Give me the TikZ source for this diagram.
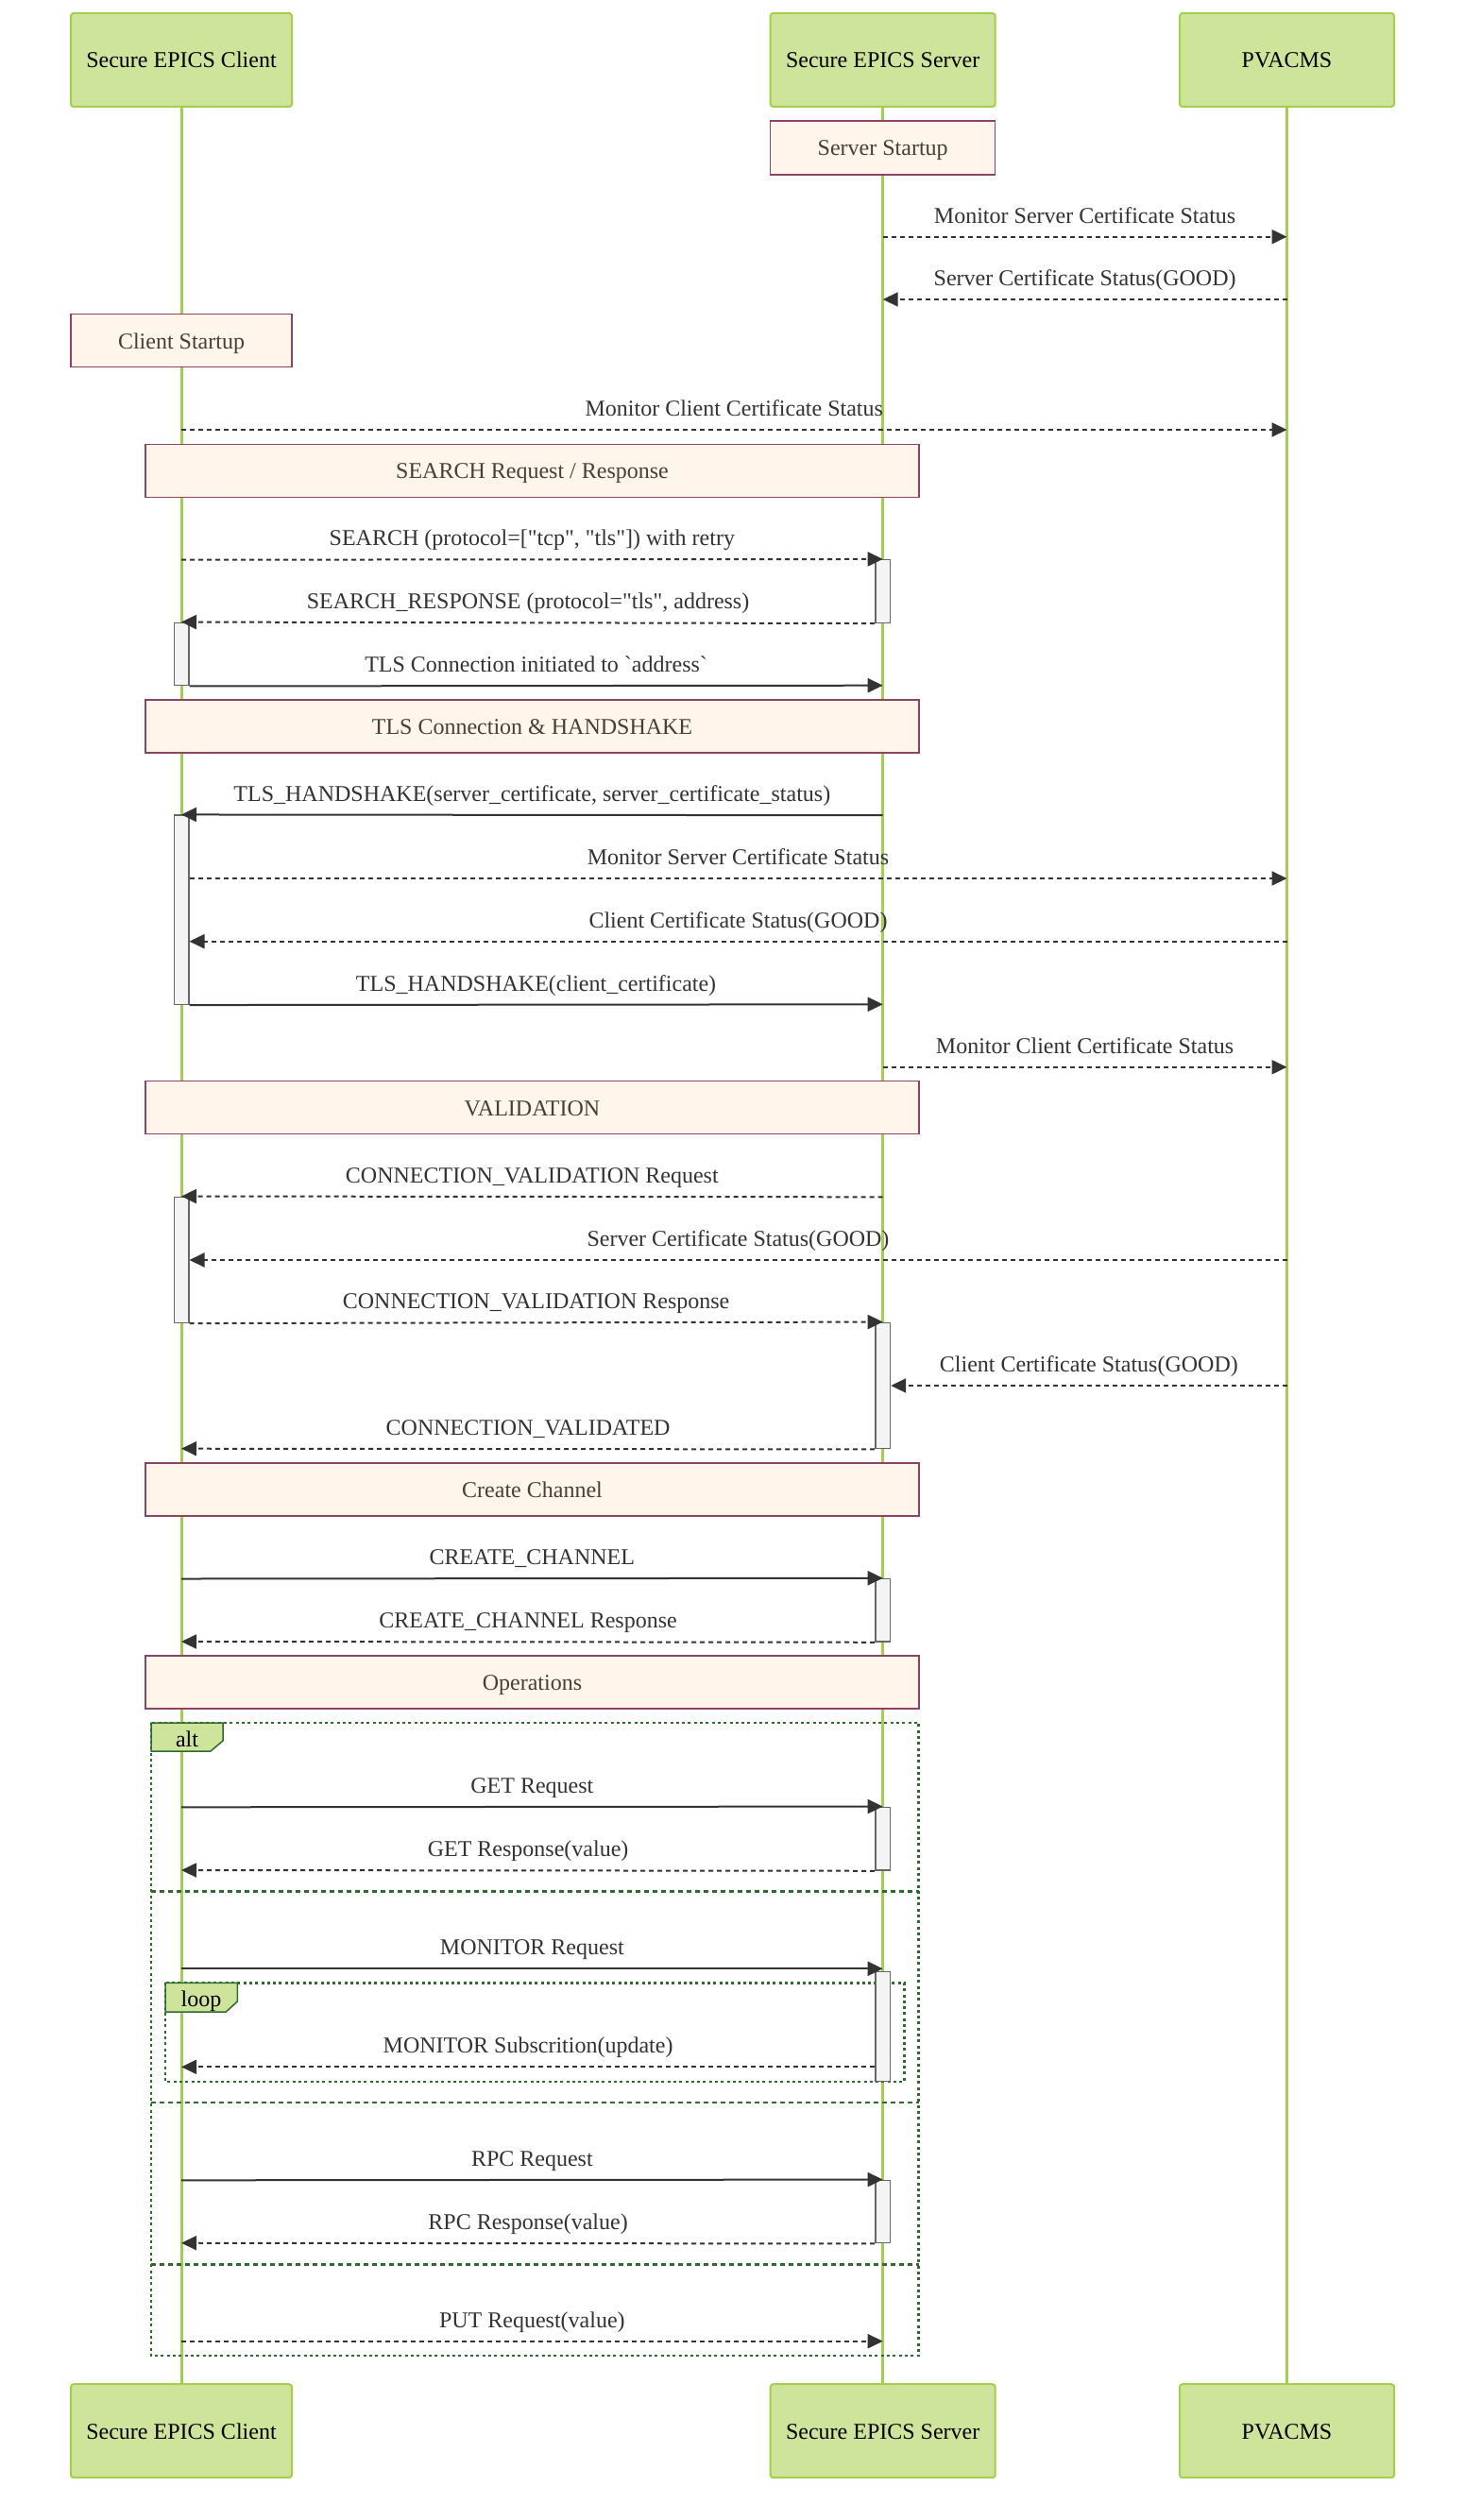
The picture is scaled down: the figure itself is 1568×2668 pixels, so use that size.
\documentclass[tikz,border=0pt]{standalone}
\usepackage{fontspec}
\setmainfont{Liberation Serif}
\usepackage{xcolor}
\usetikzlibrary{arrows.meta}

\definecolor{actfill}{HTML}{CFE49B}
\definecolor{actline}{HTML}{A2D04A}
\definecolor{notefill}{HTML}{FFF5EA}
\definecolor{noteline}{HTML}{8B4463}
\definecolor{notetext}{HTML}{4A3E38}
\definecolor{msgline}{HTML}{333333}
\definecolor{frameline}{HTML}{2F6B2F}
\definecolor{barfill}{HTML}{F4F4F4}
\definecolor{barline}{HTML}{666666}
\newcommand{\diagfont}{\fontsize{24}{28}\selectfont}
\newcommand{\dq}{\textquotedbl}

\tikzset{
	actorbox/.style={draw=actline, fill=actfill, line width=2pt, rounded corners=3pt,
		minimum height=99pt, inner sep=0pt, font=\diagfont, text height=22pt, text depth=5pt},
	notebox/.style={draw=noteline, fill=notefill, line width=1.5pt, minimum height=56pt,
		inner sep=0pt, font=\diagfont, text=notetext, text height=22pt, text depth=5pt},
	actbar/.style={draw=barline, fill=barfill, line width=1.5pt, minimum width=15.5pt, inner sep=0pt},
	lifeline/.style={draw=actline, line width=3pt},
	msgsolid/.style={draw=msgline, line width=2pt, -{Triangle[length=16pt,width=15pt]}},
	msgdash/.style={msgsolid, dash pattern=on 5pt off 4pt},
	msglabel/.style={midway, anchor=base, yshift=14.5pt, inner sep=0pt, font=\diagfont, text=msgline},
	groupframe/.style={draw=frameline, line width=2.5pt, dash pattern=on 3pt off 3.3pt},
	groupsep/.style={draw=frameline, line width=2.5pt, dash pattern=on 5pt off 4pt},
	grouptag/.style={draw=frameline, fill=actfill, line width=1.5pt},
}

\begin{document}
\begin{tikzpicture}[x=1pt, y=-1pt]
	\path[use as bounding box, fill=white] (0,0) rectangle (1568,2668);
	% participants
	\node[actorbox, minimum width=234pt] (cTop) at (192,63.5) {Secure EPICS Client};
	\node[actorbox, minimum width=238pt] (sTop) at (934.7,63.5) {Secure EPICS Server};
	\node[actorbox, minimum width=227pt] (pTop) at (1362.5,63.5) {PVACMS};
	\node[actorbox, minimum width=234pt] (cBot) at (192,2573.7) {Secure EPICS Client};
	\node[actorbox, minimum width=238pt] (sBot) at (934.7,2573.7) {Secure EPICS Server};
	\node[actorbox, minimum width=227pt] (pBot) at (1362.5,2573.7) {PVACMS};
	\draw[lifeline] (cTop.south) -- (cBot.north);
	\draw[lifeline] (sTop.south) -- (sBot.north);
	\draw[lifeline] (pTop.south) -- (pBot.north);

	% notes
	\node[notebox, minimum width=238pt, minimum height=56.7pt] (nSrvStart) at (934.7,156.4) {Server Startup};
	\node[notebox, minimum width=234pt] (nCliStart) at (192,360.7) {Client Startup};
	\node[notebox, minimum width=819pt] (nSearch) at (563.5,498.3) {SEARCH Request / Response};
	\node[notebox, minimum width=819pt] (nTls) at (563.5,768.9) {TLS Connection \& HANDSHAKE};
	\node[notebox, minimum width=819pt] (nValid) at (563.5,1172.5) {VALIDATION};
	\node[notebox, minimum width=819pt] (nChan) at (563.5,1577.2) {Create Channel};
	\node[notebox, minimum width=819pt] (nOps) at (563.5,1781) {Operations};

	% alt / loop frames
	\draw[groupframe] (160,1824) rectangle (972.7,2494);
	\draw[groupsep] (160,2002.3) -- (972.7,2002.3);
	\draw[groupsep] (160,2226) -- (972.7,2226);
	\draw[groupsep] (160,2397.3) -- (972.7,2397.3);
	\draw[groupframe] (175,2099.3) rectangle (957.3,2204);
	\draw[grouptag] (160,1824) -- (236,1824) -- (236,1843) -- (223,1854) -- (160,1854) -- cycle;
	\node[anchor=base, inner sep=0pt, font=\diagfont] (tAlt) at (198,1849) {alt};
	\draw[grouptag] (175,2099.3) -- (251.3,2099.3) -- (251.3,2119) -- (239.3,2130) -- (175,2130) -- cycle;
	\node[anchor=base, inner sep=0pt, font=\diagfont] (tLoop) at (213,2124.3) {loop};

	% activations
	\node[actbar, minimum height=66.6pt] (a1) at (sTop |- 0,626) {};
	\node[actbar, minimum height=66.4pt] (a2) at (cTop |- 0,692.5) {};
	\node[actbar, minimum height=200.1pt] (a3) at (cTop |- 0,963.25) {};
	\node[actbar, minimum height=133pt] (a4) at (cTop |- 0,1333.8) {};
	\node[actbar, minimum height=133.4pt] (a5) at (sTop |- 0,1467) {};
	\node[actbar, minimum height=66.5pt] (a6) at (sTop |- 0,1704.75) {};
	\node[actbar, minimum height=66.7pt] (a7) at (sTop |- 0,1946.65) {};
	\node[actbar, minimum height=116.4pt] (a8) at (sTop |- 0,2145.5) {};
	\node[actbar, minimum height=66.4pt] (a9) at (sTop |- 0,2341.5) {};

	% messages
	\draw[msgdash] (sTop |- 0,250.7) -- (pTop |- 0,250.7) node[msglabel] {Monitor Server Certificate Status};
	\draw[msgdash] (pTop |- 0,317) -- (sTop |- 0,317) node[msglabel] {Server Certificate Status(GOOD)};
	\draw[msgdash] (cTop |- 0,455) -- (pTop |- 0,455) node[msglabel] {Monitor Client Certificate Status};
	\draw[msgdash] (cTop |- 0,592.7) -- (a1.north) node[msglabel] {SEARCH (protocol=[\dq tcp\dq, \dq tls\dq]) with retry};
	\draw[msgdash] (a1.south west) -- (a2.north) node[msglabel] {SEARCH\_RESPONSE (protocol=\dq tls\dq, address)};
	\draw[msgsolid] (a2.south east) -- (sTop |- 0,725.7) node[msglabel] {TLS Connection initiated to \textasciigrave address\textasciigrave};
	\draw[msgsolid] (sTop |- 0,863.2) -- (a3.north) node[msglabel] {TLS\_HANDSHAKE(server\_certificate, server\_certificate\_status)};
	\draw[msgdash] (a3.east |- 0,930) -- (pTop |- 0,930) node[msglabel] {Monitor Server Certificate Status};
	\draw[msgdash] (pTop |- 0,996.7) -- (a3.east |- 0,996.7) node[msglabel] {Client Certificate Status(GOOD)};
	\draw[msgsolid] (a3.south east) -- (sTop |- 0,1063.3) node[msglabel] {TLS\_HANDSHAKE(client\_certificate)};
	\draw[msgdash] (sTop |- 0,1129.8) -- (pTop |- 0,1129.8) node[msglabel] {Monitor Client Certificate Status};
	\draw[msgdash] (sTop |- 0,1267.3) -- (a4.north) node[msglabel] {CONNECTION\_VALIDATION Request};
	\draw[msgdash] (pTop |- 0,1334) -- (a4.east |- 0,1334) node[msglabel] {Server Certificate Status(GOOD)};
	\draw[msgdash] (a4.south east) -- (a5.north) node[msglabel] {CONNECTION\_VALIDATION Response};
	\draw[msgdash] (pTop |- 0,1467) -- (a5.east |- 0,1467) node[msglabel] {Client Certificate Status(GOOD)};
	\draw[msgdash] (a5.south west) -- (cTop |- 0,1533.7) node[msglabel] {CONNECTION\_VALIDATED};
	\draw[msgsolid] (cTop |- 0,1671.5) -- (a6.north) node[msglabel] {CREATE\_CHANNEL};
	\draw[msgdash] (a6.south west) -- (cTop |- 0,1738) node[msglabel] {CREATE\_CHANNEL Response};
	\draw[msgsolid] (cTop |- 0,1913.3) -- (a7.north) node[msglabel] {GET Request};
	\draw[msgdash] (a7.south west) -- (cTop |- 0,1980) node[msglabel] {GET Response(value)};
	\draw[msgsolid] (cTop |- 0,2084.3) -- (sTop |- 0,2084.3) node[msglabel] {MONITOR Request};
	\draw[msgdash] (a8.west |- 0,2188.3) -- (cTop |- 0,2188.3) node[msglabel] {MONITOR Subscrition(update)};
	\draw[msgsolid] (cTop |- 0,2308.3) -- (a9.north) node[msglabel] {RPC Request};
	\draw[msgdash] (a9.south west) -- (cTop |- 0,2374.7) node[msglabel] {RPC Response(value)};
	\draw[msgdash] (cTop |- 0,2478.7) -- (sTop |- 0,2478.7) node[msglabel] {PUT Request(value)};
\end{tikzpicture}
\end{document}
